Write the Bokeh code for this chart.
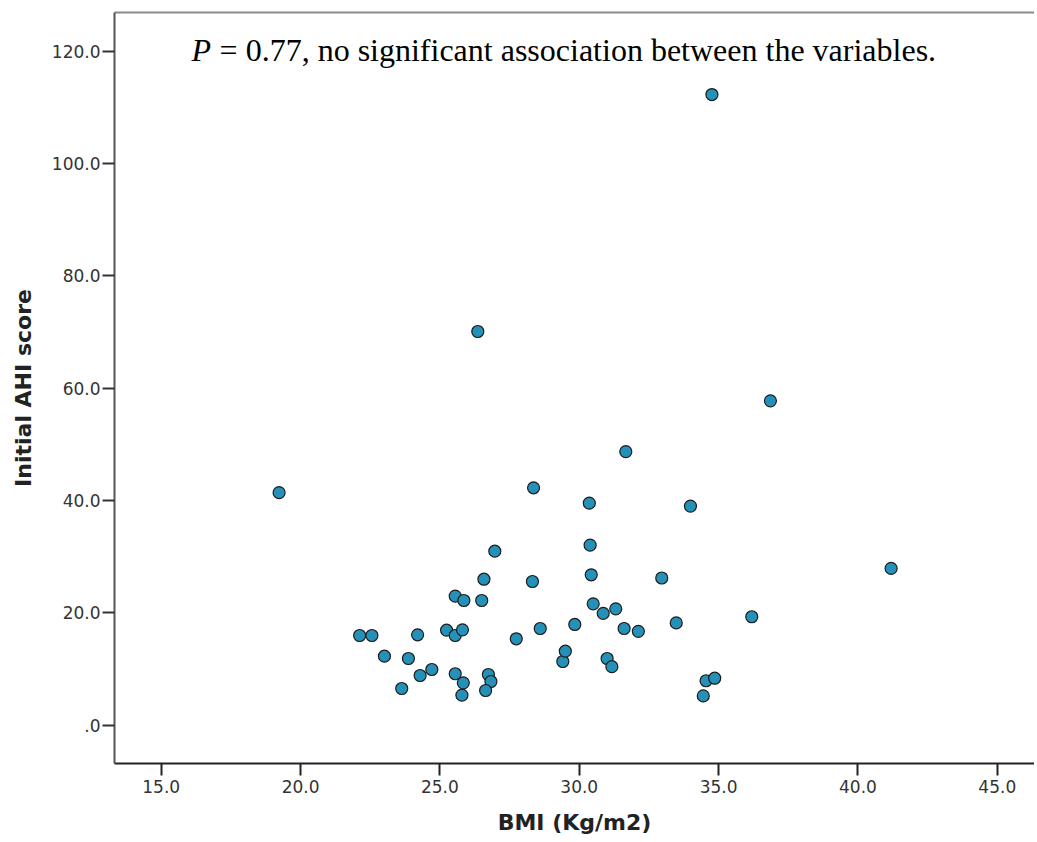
from bokeh.plotting import figure
from bokeh.models import Range1d, FixedTicker, LinearAxis, Label
from bokeh.embed import file_html
from bokeh.resources import INLINE

# ---- data ----
bmi = [19.23, 22.12, 22.56, 23.01, 23.63, 23.87, 24.20, 24.29, 24.71, 25.24,
       25.55, 25.55, 25.55, 25.81, 25.86, 25.84, 25.79, 26.36, 26.50, 26.58,
       26.74, 26.83, 26.64, 26.97, 27.74, 28.32, 28.36, 28.60, 29.41, 29.50,
       29.84, 30.36, 30.39, 30.43, 30.50, 30.86, 31.31, 31.61, 32.12, 31.00,
       31.17, 31.67, 32.96, 33.48, 33.99, 34.76, 34.55, 34.86, 34.45, 36.19,
       36.86, 41.19]
ahi = [41.4, 15.96, 15.96, 12.27, 6.52, 11.86, 16.08, 8.83, 9.9, 16.9,
       22.96, 15.96, 9.14, 16.97, 22.19, 7.53, 5.33, 70.1, 22.19, 25.98,
       9.01, 7.76, 6.16, 30.97, 15.37, 25.57, 42.26, 17.2, 11.33, 13.16,
       17.92, 39.52, 32.04, 26.77, 21.6, 19.9, 20.7, 17.2, 16.7, 11.86,
       10.4, 48.7, 26.2, 18.2, 39.0, 112.3, 7.9, 8.35, 5.2, 19.3,
       57.75, 27.9]

x_ticks = [15, 20, 25, 30, 35, 40, 45]
x_tick_labels = ["15.0", "20.0", "25.0", "30.0", "35.0", "40.0", "45.0"]
y_ticks = [0, 20, 40, 60, 80, 100, 120]
y_tick_labels = [".0", "20.0", "40.0", "60.0", "80.0", "100.0", "120.0"]

x_title = "BMI (Kg/m2)"
y_title = "Initial AHI score"
note_p = "P"
note_rest = "= 0.77, no significant association between the variables."

p = figure(frame_width=920, frame_height=751,
           x_range=Range1d(13.324, 46.335), y_range=Range1d(-6.84, 126.91),
           output_backend="svg", toolbar_location=None,
           min_border_left=114, min_border_top=12, min_border_right=0,
           min_border_bottom=60, background_fill_color="white",
           border_fill_color="white")
p.outline_line_color = None
p.grid.visible = False

for ax in (p.xaxis[0], p.yaxis[0]):
    ax.minor_tick_line_color = None
    ax.major_tick_in = 0
    ax.major_tick_out = 12
    ax.major_tick_line_width = 2
    ax.major_label_text_font = "DejaVu Sans"
    ax.major_label_text_font_size = "17px"
    ax.major_label_text_color = "#333333"
    ax.axis_label_text_font = "DejaVu Sans"
    ax.axis_label_text_font_style = "bold"
    ax.axis_label_text_font_size = "22px"
    ax.axis_label_text_color = "#222222"
    ax.axis_line_width = 2

p.xaxis[0].ticker = FixedTicker(ticks=x_ticks)
p.xaxis[0].major_label_overrides = dict(zip(x_ticks, x_tick_labels))
p.xaxis[0].axis_label = x_title
p.xaxis[0].axis_line_color = "#222222"
p.xaxis[0].major_tick_line_color = "#222222"
p.xaxis[0].major_label_standoff = 4
p.xaxis[0].axis_label_standoff = 14

p.yaxis[0].ticker = FixedTicker(ticks=y_ticks)
p.yaxis[0].major_label_overrides = dict(zip(y_ticks, y_tick_labels))
p.yaxis[0].axis_label = y_title
p.yaxis[0].axis_line_color = "#555555"
p.yaxis[0].major_tick_line_color = "#333333"
p.yaxis[0].major_label_standoff = 2
p.yaxis[0].axis_label_standoff = 13

top = LinearAxis(ticker=FixedTicker(ticks=[]), axis_line_color="#8a8a8a",
                 axis_line_width=2, major_tick_line_color=None,
                 minor_tick_line_color=None, major_label_standoff=0)
p.add_layout(top, "above")

p.scatter(bmi, ahi, size=12, fill_color="#2591b8", line_color="#1c1c1c",
          line_width=1.2)

p.add_layout(Label(x=16.09, y=120.2, text=note_p, text_font="Liberation Serif",
                   text_font_style="italic", text_font_size="32px",
                   text_color="black", text_baseline="alphabetic"))
p.add_layout(Label(x=16.09, y=120.2, x_offset=28, text=note_rest,
                   text_font="Liberation Serif", text_font_size="32px",
                   text_color="black", text_baseline="alphabetic"))

open("out.html", "w").write(file_html(p, INLINE))
